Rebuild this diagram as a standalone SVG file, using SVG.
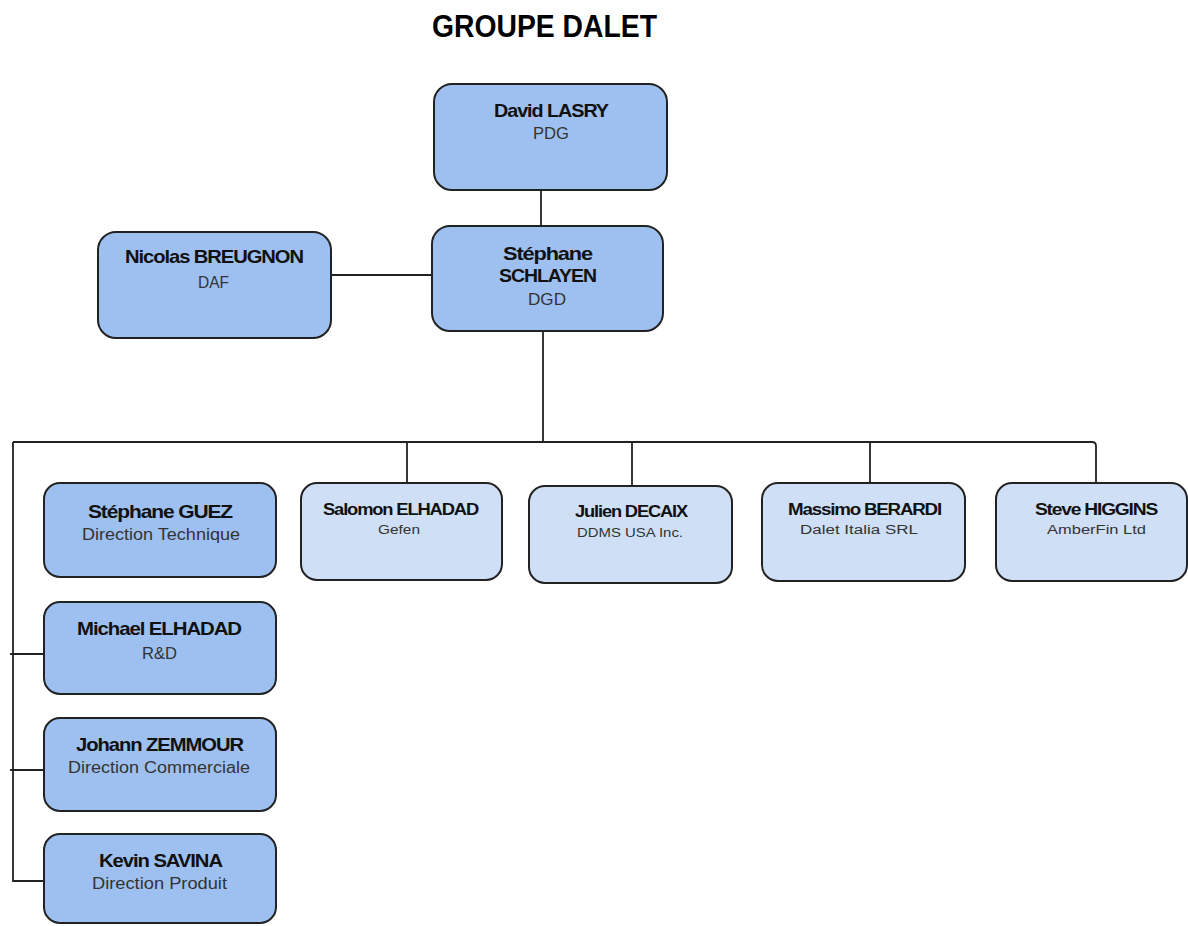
<svg xmlns="http://www.w3.org/2000/svg" width="1188" height="926" viewBox="0 0 1188 926">
<style>
text{font-family:"Liberation Sans",Arial,sans-serif;text-anchor:middle}
.t{font-size:32px;font-weight:bold;fill:#000}
.n{font-size:19px;font-weight:bold;fill:#111;letter-spacing:-1px}
.s{font-size:16px;fill:#333}
.n2{font-size:16px;font-weight:bold;fill:#111;letter-spacing:-1px}
.s2{font-size:12px;fill:#333}
.b1{fill:#9ec0f0;stroke:#222;stroke-width:2}
.b2{fill:#cfdff6;stroke:#222;stroke-width:2}
.c{fill:none;stroke:#222;stroke-width:1.8}
</style>
<rect width="1188" height="926" fill="#fff"/>
<text class="t" x="544.5" y="37" textLength="225" lengthAdjust="spacingAndGlyphs">GROUPE DALET</text>
<g id="connectors">
<path class="c" d="M541 190V226"/>
<path class="c" d="M331 275H432"/>
<path class="c" d="M543 331V442"/>
<path class="c" d="M13 442H1092Q1096 442 1096 446V483"/>
<path class="c" d="M13 442V881H44"/>
<path class="c" d="M10 654H44"/>
<path class="c" d="M10 770H44"/>
<path class="c" d="M407 442V483"/>
<path class="c" d="M632 442V486"/>
<path class="c" d="M870 442V483"/>
</g>
<g id="lasry">
<rect class="b1" x="434" y="84" width="233" height="106" rx="18"/>
<text class="n" x="551" y="117" textLength="114" lengthAdjust="spacingAndGlyphs">David LASRY</text>
<text class="s" x="551" y="139" textLength="36" lengthAdjust="spacingAndGlyphs">PDG</text>
</g>
<g id="schlayen">
<rect class="b1" x="432" y="226" width="231" height="105" rx="18"/>
<text class="n" x="547.5" y="260" textLength="89" lengthAdjust="spacingAndGlyphs">Stéphane</text>
<text class="n" x="547.5" y="282" textLength="97" lengthAdjust="spacingAndGlyphs">SCHLAYEN</text>
<text class="s" x="547" y="305" textLength="38" lengthAdjust="spacingAndGlyphs">DGD</text>
</g>
<g id="breugnon">
<rect class="b1" x="98" y="232" width="233" height="106" rx="18"/>
<text class="n" x="214" y="263" textLength="178" lengthAdjust="spacingAndGlyphs">Nicolas BREUGNON</text>
<text class="s" x="213.5" y="288" textLength="31" lengthAdjust="spacingAndGlyphs">DAF</text>
</g>
<g id="guez">
<rect class="b1" x="44" y="483" width="232" height="94" rx="16"/>
<text class="n" x="160" y="518" textLength="144" lengthAdjust="spacingAndGlyphs">Stéphane GUEZ</text>
<text class="s" x="161" y="540" textLength="158" lengthAdjust="spacingAndGlyphs">Direction Technique</text>
</g>
<g id="michael">
<rect class="b1" x="44" y="602" width="232" height="92" rx="16"/>
<text class="n" x="159" y="635" textLength="164" lengthAdjust="spacingAndGlyphs">Michael ELHADAD</text>
<text class="s" x="159.5" y="659" textLength="35" lengthAdjust="spacingAndGlyphs">R&amp;D</text>
</g>
<g id="zemmour">
<rect class="b1" x="44" y="718" width="232" height="93" rx="16"/>
<text class="n" x="159.5" y="751" textLength="167" lengthAdjust="spacingAndGlyphs">Johann ZEMMOUR</text>
<text class="s" x="159" y="773" textLength="182" lengthAdjust="spacingAndGlyphs">Direction Commerciale</text>
</g>
<g id="savina">
<rect class="b1" x="44" y="834" width="232" height="89" rx="16"/>
<text class="n" x="160.5" y="867" textLength="123" lengthAdjust="spacingAndGlyphs">Kevin SAVINA</text>
<text class="s" x="159.5" y="889" textLength="135" lengthAdjust="spacingAndGlyphs">Direction Produit</text>
</g>
<g id="salomon">
<rect class="b2" x="301" y="483" width="201" height="97" rx="16"/>
<text class="n2" x="400.5" y="515" textLength="155" lengthAdjust="spacingAndGlyphs">Salomon ELHADAD</text>
<text class="s2" x="399" y="534" textLength="42" lengthAdjust="spacingAndGlyphs">Gefen</text>
</g>
<g id="decaix">
<rect class="b2" x="529" y="486" width="203" height="97" rx="16"/>
<text class="n2" x="631" y="517" textLength="112" lengthAdjust="spacingAndGlyphs">Julien DECAIX</text>
<text class="s2" x="630" y="537" textLength="106" lengthAdjust="spacingAndGlyphs">DDMS USA Inc.</text>
</g>
<g id="berardi">
<rect class="b2" x="762" y="483" width="203" height="98" rx="16"/>
<text class="n2" x="864.5" y="515" textLength="153" lengthAdjust="spacingAndGlyphs">Massimo BERARDI</text>
<text class="s2" x="859" y="534" textLength="118" lengthAdjust="spacingAndGlyphs">Dalet Italia SRL</text>
</g>
<g id="higgins">
<rect class="b2" x="996" y="483" width="191" height="98" rx="16"/>
<text class="n2" x="1096" y="515" textLength="122" lengthAdjust="spacingAndGlyphs">Steve HIGGINS</text>
<text class="s2" x="1096.5" y="534" textLength="99" lengthAdjust="spacingAndGlyphs">AmberFin Ltd</text>
</g>
</svg>
